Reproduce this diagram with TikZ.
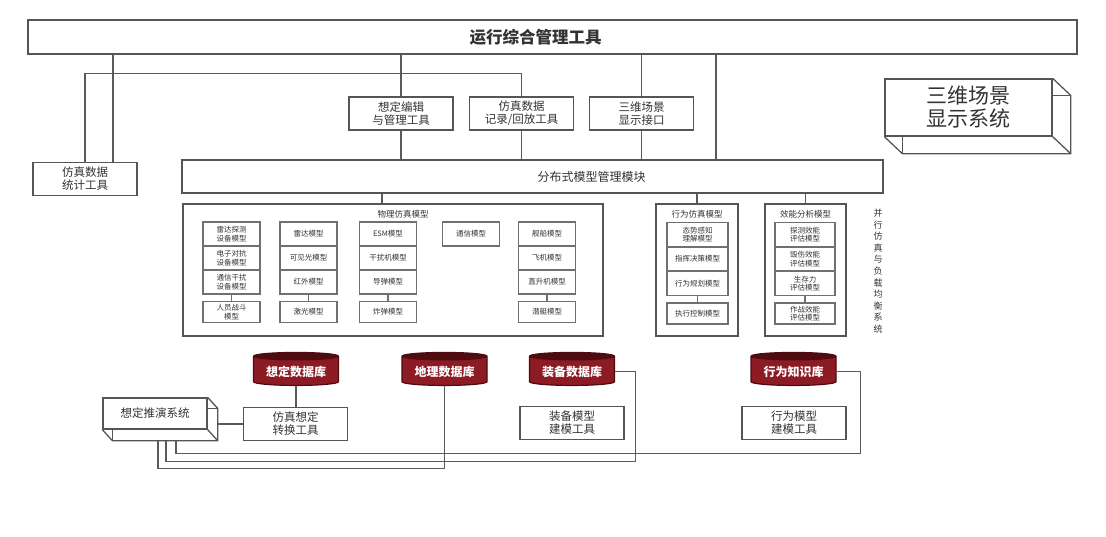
\documentclass[tikz,border=0pt]{standalone}
\usepackage{fontspec}
\newfontfamily\cjk{Noto Sans CJK SC}
\usetikzlibrary{shapes.geometric, calc}
\definecolor{cedge}{HTML}{555555}
\definecolor{cline}{HTML}{5A5A5A}
\definecolor{cmodel}{HTML}{707070}
\definecolor{cdb}{HTML}{8C1B24}
\definecolor{cdbtop}{HTML}{4E0B10}
\definecolor{ctext}{HTML}{333333}
\tikzset{
  every picture/.style={font=\cjk, line width=1.2pt},
  wide/.style={draw=cedge, fill=white, line width=1.3pt, inner sep=0pt},
  tool/.style={draw=cedge, fill=white, line width=1.3pt, align=center, inner sep=1pt, minimum width=104pt, minimum height=33pt, text=ctext, font=\cjk\fontsize{11.5}{13}\selectfont},
  group/.style={draw=cedge, fill=white, line width=1.3pt, inner sep=0pt},
  heading/.style={text=ctext, font=\cjk\fontsize{8.5}{9}\selectfont},
  model/.style={draw=cmodel, fill=white, line width=1.8pt, align=center, inner sep=0.5pt, minimum width=#1, minimum height=24pt, text=ctext, font=\cjk\fontsize{7.5}{8.5}\selectfont},
  model/.default=57pt,
  datab/.style={cylinder, shape border rotate=90, aspect=0.12, draw=cdbtop, cylinder uses custom fill, cylinder body fill=cdb, cylinder end fill=cdbtop, minimum width=85pt, minimum height=33pt, inner sep=1pt, text=white, font=\cjk\bfseries\fontsize{12}{13}\selectfont},
  link/.style={draw=cline, line width=1.2pt},
  edge3d/.style={draw=cedge, line width=1.3pt},
}

\begin{document}
\begin{tikzpicture}[x=1pt, y=-1pt]
  \useasboundingbox (0,0) rectangle (1106,536);
  % management layer
  \node[wide, minimum width=1049pt, minimum height=34pt, label={[xshift=-17pt, text=ctext, font=\cjk\bfseries\fontsize{16.5}{17}\selectfont]center:运行综合管理工具}] (top) at (552.5,37) {};
  \node[tool] (stat) at (85,179) {仿真数据\\统计工具};
  \node[tool] (plan) at (401,113.5) {想定编辑\\与管理工具};
  \node[tool] (rec) at (521.5,113.5) {仿真数据\\记录/回放工具};
  \node[tool] (view) at (641.5,113.5) {三维场景\\显示接口};
  \node[tool, minimum width=167pt, minimum height=57pt, font=\cjk\fontsize{21}{23}\selectfont] (sys) at (968.5,107.5) {三维场景\\显示系统};
  \node[wide, minimum width=701pt, minimum height=33pt, label={[xshift=59pt, text=ctext, font=\cjk\fontsize{12}{13}\selectfont]center:分布式模型管理模块}] (dist) at (532.5,176.5) {};
  \draw[link] ([xshift=28pt]stat.north) -- ([xshift=28pt]stat.north |- top.south);
  \draw[link] (stat.north) -- ++(0,-88) -| (rec.north);
  \draw[link] (top.south -| plan.north) -- (plan.north);
  \draw[link] (top.south -| view.north) -- (view.north);
  \draw[link] (plan.south) -- (plan.south |- dist.north);
  \draw[link] (rec.south) -- (rec.south |- dist.north);
  \draw[link] (view.south) -- (view.south |- dist.north);
  \draw[link] ([xshift=183.5pt]dist.north) -- ([xshift=183.5pt]dist.north |- top.south);
  \draw[edge3d] (sys.north east) -- ++(18,17) -- ($(sys.south east)+(18,17)$) -- ($(sys.south west)+(18,17)$) -- (sys.south west);
  \draw[edge3d] ($(sys.north east)+(0,17)$) -- ++(18,0);
  \draw[edge3d] ($(sys.south west)+(18,0)$) -- ++(0,17);
  \draw[edge3d] (sys.south east) -- ++(18,17);
  % model groups
  \node[group, minimum width=420pt, minimum height=132pt] (phys) at (393,270) {};
  \node[heading] (physt) at (403,214) {物理仿真模型};
  \node[group, minimum width=82pt, minimum height=132pt] (beh) at (697,270) {};
  \node[heading] (beht) at (697,214) {行为仿真模型};
  \node[group, minimum width=81pt, minimum height=132pt] (eff) at (805.5,270) {};
  \node[heading] (efft) at (805.5,214) {效能分析模型};
  \node[heading, align=center, font=\cjk\fontsize{9}{11.6}\selectfont] (side) at (878,271) {并\\行\\仿\\真\\与\\负\\载\\均\\衡\\系\\统};
  \draw[link] ([xshift=-11pt]phys.north) -- ([xshift=-11pt]phys.north |- dist.south);
  \draw[link] (beh.north) -- (beh.north |- dist.south);
  \draw[link] (eff.north) -- (eff.north |- dist.south);

  \node[model] (m11) at (231.5,234) {雷达探测\\设备模型};
  \node[model] (m12) at (231.5,258) {电子对抗\\设备模型};
  \node[model] (m13) at (231.5,282) {通信干扰\\设备模型};
  \node[model, minimum height=21pt] (m14) at (231.5,312) {人员战斗\\模型};
  \draw[link, draw=cmodel] (m13) -- (m14);
  \node[model] (m21) at (308.5,234) {雷达模型};
  \node[model] (m22) at (308.5,258) {可见光模型};
  \node[model] (m23) at (308.5,282) {红外模型};
  \node[model, minimum height=21pt] (m24) at (308.5,312) {激光模型};
  \draw[link, draw=cmodel] (m23) -- (m24);
  \node[model] (m31) at (388,234) {ESM模型};
  \node[model] (m32) at (388,258) {干扰机模型};
  \node[model] (m33) at (388,282) {导弹模型};
  \node[model, minimum height=21pt] (m34) at (388,312) {炸弹模型};
  \draw[link, draw=cmodel] (m33) -- (m34);
  \node[model] (m41) at (471,234) {通信模型};
  \node[model] (m51) at (547,234) {舰船模型};
  \node[model] (m52) at (547,258) {飞机模型};
  \node[model] (m53) at (547,282) {直升机模型};
  \node[model, minimum height=21pt] (m54) at (547,312) {潜艇模型};
  \draw[link, draw=cmodel] (m53) -- (m54);

  \node[model=61pt] (b1) at (697.5,234.5) {态势感知\\理解模型};
  \node[model=61pt] (b2) at (697.5,259) {指挥决策模型};
  \node[model=61pt] (b3) at (697.5,283.5) {行为规划模型};
  \node[model=61pt, minimum height=21pt] (b4) at (697.5,313.5) {执行控制模型};
  \draw[link, draw=cmodel] (b3) -- (b4);
  \node[model=60pt] (e1) at (805,234.5) {探测效能\\评估模型};
  \node[model=60pt] (e2) at (805,259) {毁伤效能\\评估模型};
  \node[model=60pt] (e3) at (805,283.5) {生存力\\评估模型};
  \node[model=60pt, minimum height=21pt] (e4) at (805,313.5) {作战效能\\评估模型};
  \draw[link, draw=cmodel] (e3) -- (e4);

  % databases and tools
  \node[datab] (sdb) at (296,371.5) {想定数据库};
  \node[datab] (gdb) at (444.5,371.5) {地理数据库};
  \node[datab] (edb) at (572,371.5) {装备数据库};
  \node[datab] (kdb) at (793.5,371.5) {行为知识库};
  \node[tool] (conv) at (295.5,424) {仿真想定\\转换工具};
  \node[tool] (emt) at (572,423) {装备模型\\建模工具};
  \node[tool] (bmt) at (794,423) {行为模型\\建模工具};
  \node[tool, minimum height=31pt] (ded) at (155,413.5) {想定推演系统};
  \draw[edge3d] (ded.north east) -- ++(10,11) -- ($(ded.south east)+(10,11)$) -- ($(ded.south west)+(10,11)$) -- (ded.south west);
  \draw[edge3d] ($(ded.north east)+(0,11)$) -- ++(10,0);
  \draw[edge3d] ($(ded.south west)+(10,0)$) -- ++(0,11);
  \draw[edge3d] (ded.south east) -- ++(10,11);
  \draw[link] (sdb.south) -- (sdb.south |- conv.north);
  \draw[link] (conv.west) -- ([xshift=10pt]ded.east |- conv.west);
  \draw[link] (gdb.south) |- ([xshift=3pt, yshift=-39pt]ded.south) -- ([xshift=3pt, yshift=-11pt]ded.south);
  \draw[link] (edb.east) -- ++(20,0) |- ([xshift=11pt, yshift=-32pt]ded.south) -- ([xshift=11pt, yshift=-11pt]ded.south);
  \draw[link] (kdb.east) -- ++(24,0) |- ([xshift=21pt, yshift=-24pt]ded.south) -- ([xshift=21pt, yshift=-11pt]ded.south);
\end{tikzpicture}
\end{document}
